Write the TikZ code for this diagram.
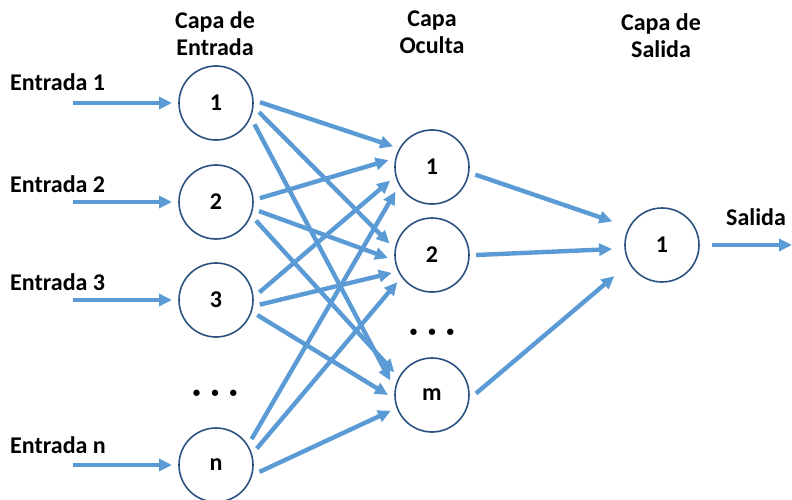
\documentclass[tikz,border=0pt]{standalone}
\usepackage{fontspec}
\setmainfont{Carlito}
\usetikzlibrary{arrows.meta}
\definecolor{arrowblue}{HTML}{5B9BD5}
\definecolor{ringblue}{HTML}{2A5280}
\begin{document}
\begin{tikzpicture}[x=1pt,y=-1pt,
  font=\fontsize{24}{27}\selectfont\bfseries,
  neuron/.style={circle,draw=ringblue,line width=1.6pt,minimum size=74pt,inner sep=0pt,outer sep=7pt},
  arr/.style={draw=arrowblue,line width=4.4pt,-{Triangle[length=13pt,width=12pt]}},
  lbl/.style={inner sep=0pt,anchor=base west},
  head/.style={inner sep=0pt,anchor=north,align=center},
  dotsnode/.style={inner sep=0pt,font=\fontsize{15}{18}\selectfont\bfseries}]
\useasboundingbox (0,0) rectangle (792,500);
% layer headings
\node[head] (hin) at (215,11) {Capa de\\Entrada};
\node[head] (hhid) at (432,11) {Capa\\Oculta};
\node[head] (hout) at (661,13) {Capa de\\Salida};
% input neurons
\node[neuron] (i1) at (216,103) {1};
\node[neuron] (i2) at (216,202) {2};
\node[neuron] (i3) at (216,300) {3};
\node[neuron] (in) at (216,465) {n};
% hidden neurons
\node[neuron] (h1) at (432,167) {1};
\node[neuron] (h2) at (432,255) {2};
\node[neuron] (hm) at (432,395) {m};
% output neuron
\node[neuron] (o1) at (662,245) {1};
% dots
\node[dotsnode] (d1) at (215,394) {•\hspace{11pt}•\hspace{11pt}•};
\node[dotsnode] (d2) at (432,333) {•\hspace{11pt}•\hspace{11pt}•};
% input labels
\node[lbl] (e1) at (10,91) {Entrada 1};
\node[lbl] (e2) at (10,192) {Entrada 2};
\node[lbl] (e3) at (10,290) {Entrada 3};
\node[lbl] (en) at (10,453) {Entrada n};
\node[inner sep=0pt,anchor=base] (sal) at (756,225) {Salida};
% free ends
\coordinate (s1) at (73,103);
\coordinate (s2) at (73,202);
\coordinate (s3) at (73,300);
\coordinate (sn) at (73,465);
\coordinate (oend) at (792,245);
% input arrows
\draw[arr] (s1) -- (i1.west);
\draw[arr] (s2) -- (i2.west);
\draw[arr] (s3) -- (i3.west);
\draw[arr] (sn) -- (in.west);
% input -> hidden
\draw[arr] (i1.1) -- (h1.152);
\draw[arr] (i1.-12) -- (h2.165);
\draw[arr] (i1.-29) -- (hm.161);
\draw[arr] (i2.5) -- (h1.171);
\draw[arr] (i2.-12) -- (h2.184);
\draw[arr] (i2.-25) -- (hm.149);
\draw[arr] (i3.10) -- (h1.198);
\draw[arr] (i3.-6) -- (h2.204);
\draw[arr] (i3.-20) -- (hm.180);
\draw[arr] (in.36) -- (h1.214);
\draw[arr] (in.22) -- (h2.218);
\draw[arr] (in.-9) -- (hm.201);
% hidden -> output
\draw[arr,shorten >=11pt] (h1.-10) -- (o1.153);
\draw[arr,shorten >=6pt] (h2.0) -- (o1.185);
\draw[arr,shorten >=13pt] (hm.2) -- (o1.211);
% output arrow
\draw[arr,shorten <=6pt] (o1.east) -- (oend);
\end{tikzpicture}
\end{document}
